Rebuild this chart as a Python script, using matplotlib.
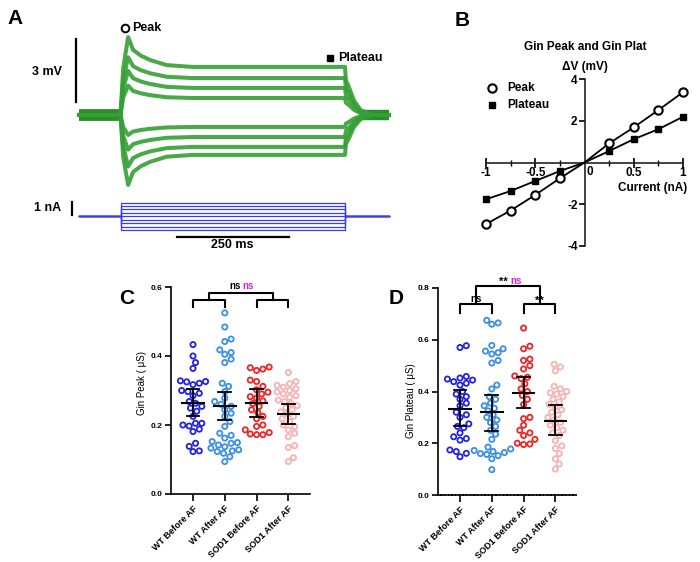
import numpy as np
import matplotlib
matplotlib.use('Agg')
import matplotlib.pyplot as plt

plt.rcParams['font.family'] = ['Liberation Sans', 'DejaVu Sans']
plt.rcParams['font.weight'] = 'bold'

W, H = 700, 562

# ---------------- data ----------------
# panel A: voltage responses (mV) to current steps
step_nA = [-1.0, -0.75, -0.5, -0.25, 0.0, 0.25, 0.5, 0.75, 1.0]
trace_plateau = [2.29, 1.76, 1.29, 0.81, -0.57, -1.05, -1.52, -1.90]
trace_peak = [3.71, 2.75, 2.10, 1.40, -0.95, -1.65, -2.45, -3.33]
t_rise = [100, 106]
rise_frac = [0.0, 0.6]
t_decay = [117, 128, 145, 166, 203, 260, 600]
decay_frac = [1.0, 0.57, 0.38, 0.23, 0.06, 0.0, 0.0]
t_off = [602, 608, 620, 635, 660, 698]
off_frac = [0.72, 0.6, 0.3, 0.1, 0.0, 0.0]
t_start, t_on, t_end, t_stop = 8, 100, 600, 698

# panel B: I-V relation
iv_current = [-1, -0.75, -0.5, -0.25, 0, 0.25, 0.5, 0.75, 1]
iv_peak = [-2.96, -2.31, -1.56, -0.76, 0, 0.92, 1.69, 2.52, 3.38]
iv_plateau = [-1.77, -1.37, -0.89, -0.41, 0, 0.55, 1.12, 1.60, 2.20]

# panels C and D
groups = ['WT Before AF', 'WT After AF', 'SOD1 Before AF', 'SOD1 After AF']
colors = ['#2222e0', '#3a8ee6', '#ee2424', '#f7b3b3']

peak_wt_before = [0.433, 0.40, 0.381, 0.364, 0.328, 0.326, 0.325, 0.321, 0.317, 0.30, 0.297,
                  0.292, 0.285, 0.268, 0.263, 0.254, 0.249, 0.24, 0.225, 0.205, 0.205, 0.20,
                  0.197, 0.188, 0.181, 0.147, 0.138, 0.123, 0.125]
peak_wt_after = [0.525, 0.484, 0.449, 0.442, 0.418, 0.41, 0.405, 0.391, 0.381, 0.321, 0.312,
                 0.297, 0.278, 0.268, 0.26, 0.254, 0.244, 0.234, 0.225, 0.21, 0.196, 0.176,
                 0.17, 0.162, 0.152, 0.149, 0.147, 0.142, 0.137, 0.133, 0.128, 0.125, 0.123,
                 0.118, 0.108, 0.094]
peak_sod_before = [0.368, 0.366, 0.362, 0.358, 0.33, 0.326, 0.312, 0.302, 0.295, 0.29, 0.282,
                   0.278, 0.27, 0.262, 0.254, 0.244, 0.236, 0.225, 0.218, 0.2, 0.196, 0.186,
                   0.178, 0.174, 0.172, 0.172]
peak_sod_after = [0.352, 0.326, 0.32, 0.315, 0.31, 0.305, 0.3, 0.296, 0.29, 0.285, 0.28, 0.272,
                  0.268, 0.262, 0.256, 0.25, 0.244, 0.238, 0.232, 0.225, 0.218, 0.21, 0.2,
                  0.195, 0.186, 0.176, 0.166, 0.14, 0.135, 0.105, 0.094]
peak_mean = [0.265, 0.256, 0.265, 0.231]
peak_lo = [0.227, 0.215, 0.223, 0.202]
peak_hi = [0.304, 0.297, 0.304, 0.260]

plat_wt_before = [0.577, 0.570, 0.458, 0.452, 0.448, 0.444, 0.438, 0.432, 0.425, 0.40, 0.39,
                  0.38, 0.37, 0.355, 0.345, 0.32, 0.31, 0.30, 0.275, 0.265, 0.26, 0.24, 0.225,
                  0.218, 0.212, 0.174, 0.168, 0.161, 0.148]
plat_wt_after = [0.675, 0.665, 0.66, 0.578, 0.565, 0.556, 0.55, 0.545, 0.52, 0.51, 0.425, 0.41,
                 0.38, 0.37, 0.355, 0.345, 0.335, 0.325, 0.31, 0.3, 0.29, 0.28, 0.265, 0.25,
                 0.235, 0.215, 0.185, 0.178, 0.172, 0.168, 0.164, 0.16, 0.157, 0.152, 0.14, 0.098]
plat_sod_before = [0.645, 0.575, 0.565, 0.525, 0.52, 0.50, 0.487, 0.46, 0.455, 0.45, 0.43,
                   0.41, 0.40, 0.385, 0.37, 0.35, 0.30, 0.295, 0.27, 0.25, 0.24, 0.23, 0.215,
                   0.20, 0.197, 0.195]
plat_sod_after = [0.505, 0.495, 0.48, 0.42, 0.41, 0.40, 0.395, 0.39, 0.38, 0.37, 0.36, 0.35,
                  0.34, 0.33, 0.32, 0.31, 0.30, 0.29, 0.28, 0.27, 0.26, 0.25, 0.24, 0.23, 0.21,
                  0.19, 0.18, 0.16, 0.14, 0.12, 0.10]
plat_mean = [0.332, 0.319, 0.396, 0.286]
plat_lo = [0.265, 0.248, 0.335, 0.230]
plat_hi = [0.404, 0.386, 0.455, 0.346]


def px_axes(fig, x0, y0, x1, y1):
    return fig.add_axes([x0 / W, 1 - y1 / H, (x1 - x0) / W, (y1 - y0) / H])


def fig_text(fig, x, y, s, **kw):
    fig.text(x / W, 1 - y / H, s, **kw)


def swarm(vals, px_x, px_y, diam):
    # simple beeswarm: nearest free horizontal slot for each point
    vals = np.asarray(vals)
    off = np.zeros(len(vals))
    placed = []
    step = diam * 0.2
    cands = [0.0]
    for k in range(1, 80):
        cands += [k * step, -k * step]
    for i in np.argsort(vals):
        y = vals[i] * px_y
        for c in cands:
            if all((c - px) ** 2 + (y - py) ** 2 >= diam ** 2 for px, py in placed):
                break
        placed.append((c, y))
        off[i] = c / px_x
    return off


fig = plt.figure(figsize=(7, 5.62), dpi=100)

# ---------------- panel A ----------------
green = '#35a035'
axv = px_axes(fig, 0, 0, 420, 190)
axv.set_xlim(-75.6 / 0.449, (420 - 75.6) / 0.449)
axv.set_ylim((115 - 190) / 21, 115 / 21)
axv.axis('off')
axv.plot([t_start, t_on], [0, 0], color='#2a8f2a', lw=8.5, solid_capstyle='butt')
axv.plot([635, t_stop], [0, 0], color='#2a8f2a', lw=7.5, solid_capstyle='butt')
for pl, pk in zip(trace_plateau, trace_peak):
    tt = [t_start] + t_rise + t_decay + t_off
    vv = ([0.0] + [f * pk for f in rise_frac]
          + [pl + f * (pk - pl) for f in decay_frac]
          + [f * pl for f in off_frac])
    axv.plot(tt, vv, color=green, lw=2.9, alpha=0.9, solid_joinstyle='round')
axv.plot([2, 2], [0.63, 3.63], color='black', lw=1.6)
axv.text(-30, 2.05, '3 mV', ha='right', va='center', fontsize=9)
axv.plot([110], [4.13], 'o', mfc='white', mec='black', ms=5.5, mew=1.4)
axv.text(127, 4.13, 'Peak', ha='left', va='center', fontsize=9)
axv.plot([566], [2.7], 's', color='black', ms=3.8)
axv.text(585, 2.7, 'Plateau', ha='left', va='center', fontsize=9)

axi = px_axes(fig, 0, 190, 420, 260)
axi.set_xlim(-75.6 / 0.449, (420 - 75.6) / 0.449)
axi.set_ylim((216.3 - 260) / 13.8, (216.3 - 190) / 13.8)
axi.axis('off')
for lvl in step_nA:
    axi.plot([t_start, t_on, t_on, t_end, t_end, t_stop], [0, 0, lvl, lvl, 0, 0],
             color='#3b3bf5', lw=0.9)
axi.plot([-7, -7], [0.08, 1.05], color='black', lw=1.6)
axi.text(-32, 0.6, '1 nA', ha='right', va='center', fontsize=9)
axi.plot([225, 475], [-1.52, -1.52], color='black', lw=1.6)
axi.text(350, -2.1, '250 ms', ha='center', va='center', fontsize=9)

# ---------------- panel B ----------------
axb = px_axes(fig, 584.5 - 1.1 * 98.5, 162.5 - 4.3 * 20.8, 584.5 + 1.1 * 98.5, 162.5 + 4.3 * 20.8)
axb.set_xlim(-1.1, 1.1)
axb.set_ylim(-4.3, 4.3)
axb.patch.set_alpha(0)
for s in ['top', 'right']:
    axb.spines[s].set_visible(False)
axb.spines['left'].set_position(('data', 0))
axb.spines['bottom'].set_position(('data', 0))
axb.spines['left'].set_bounds(-4, 4)
axb.spines['bottom'].set_bounds(-1, 1)
for s in ['left', 'bottom']:
    axb.spines[s].set_linewidth(1.2)
    axb.spines[s].set_color('#222222')
axb.set_yticks([-4, -2, 2, 4])
axb.set_yticklabels(['-4', '-2', '2', '4'])
axb.set_xticks([-1, -0.5, 0.5, 1])
axb.set_xticklabels(['-1', '-0.5', '0.5', '1'])
axb.set_xticks([-0.75, -0.25, 0.25, 0.75], minor=True)
axb.tick_params(axis='x', which='major', direction='inout', length=7, width=1.2, pad=0, labelsize=8.5)
axb.tick_params(axis='x', which='minor', direction='inout', length=4, width=1.0)
axb.tick_params(axis='y', which='major', direction='out', length=4, width=1.2, pad=1, labelsize=8.5)
axb.text(0.025, -0.46, '0', ha='left', va='center', fontsize=8.5)
axb.plot(iv_current, iv_peak, '-o', color='black', lw=1.3, mfc='white', mec='black',
         ms=6, mew=1.5, markevery=[0, 1, 2, 3, 5, 6, 7, 8], zorder=3)
axb.plot(iv_current, iv_plateau, '-s', color='black', lw=1.3, ms=3.8,
         markevery=[0, 1, 2, 3, 5, 6, 7, 8], zorder=3)
axb.text(1.04, -1.23, 'Current (nA)', ha='right', va='center', fontsize=8.5)
axb.text(0.005, 4.6, 'ΔV (mV)', ha='center', va='center', fontsize=8.5)
axb.text(0.005, 5.55, 'Gin Peak and Gin Plat', ha='center', va='center', fontsize=8.5)
axb.plot([-0.943], [3.6], 'o', mfc='white', mec='black', ms=6, mew=1.5, clip_on=False)
axb.text(-0.78, 3.6, 'Peak', ha='left', va='center', fontsize=8.5)
axb.plot([-0.94], [2.75], 's', color='black', ms=3.8, clip_on=False)
axb.text(-0.78, 2.75, 'Plateau', ha='left', va='center', fontsize=8.5)


# ---------------- panels C and D ----------------
def scatter_panel(box, ymax, yticks, data, means, los, his, ylabel, label_xy):
    x0, y0, x1, y1 = box
    ax = px_axes(fig, x0, y0, x1, y1)
    px_x = 31.8
    left = -(22) / px_x
    ax.set_xlim(left, left + (x1 - x0) / px_x)
    ax.set_ylim(0, ymax)
    px_y = (y1 - y0) / ymax
    for i, vals in enumerate(data):
        off = swarm(vals, px_x, px_y, 6.3)
        ax.scatter(i + off, vals, s=14, facecolors='none', edgecolors=colors[i],
                   linewidths=1.3, zorder=2, clip_on=False)
        ax.plot([i - 0.34, i + 0.34], [means[i], means[i]], color='black', lw=1.5, zorder=3)
        ax.plot([i, i], [los[i], his[i]], color='black', lw=1.3, zorder=3)
        for v in (los[i], his[i]):
            ax.plot([i - 0.2, i + 0.2], [v, v], color='black', lw=1.3, zorder=3)
    for s in ['top', 'right']:
        ax.spines[s].set_visible(False)
    for s in ['left', 'bottom']:
        ax.spines[s].set_linewidth(1.2)
    ax.set_yticks(yticks)
    ax.set_yticklabels([f'{v:.1f}' for v in yticks])
    ax.set_xticks(range(4))
    ax.set_xticklabels(groups, rotation=45, ha='right', rotation_mode='anchor')
    ax.tick_params(axis='y', length=4, width=1.2, pad=2, labelsize=6)
    ax.tick_params(axis='x', length=5, width=1.2, pad=2, labelsize=6.5)
    ax.set_ylabel(ylabel, fontsize=7)
    ax.yaxis.set_label_coords(*label_xy)
    return ax


axc = scatter_panel((171, 287, 310, 494), 0.6, [0.0, 0.2, 0.4, 0.6],
                    [peak_wt_before, peak_wt_after, peak_sod_before, peak_sod_after],
                    peak_mean, peak_lo, peak_hi, 'Gin Peak ( μS)', (-0.17, 0.536))
kw = dict(color='black', lw=1.5, clip_on=False)
axc.plot([0, 0, 1, 1], [0.541, 0.562, 0.562, 0.541], **kw)
axc.plot([2, 2, 3, 3], [0.541, 0.562, 0.562, 0.541], **kw)
axc.plot([0.5, 0.5, 2.5, 2.5], [0.562, 0.583, 0.583, 0.562], **kw)
axc.text(1.5, 0.604, 'ns', ha='right', va='center', fontsize=7)
axc.text(1.56, 0.604, 'ns', ha='left', va='center', fontsize=7, color='#e020e0')

axd = scatter_panel((438, 288, 577, 495), 0.8, [0.0, 0.2, 0.4, 0.6, 0.8],
                    [plat_wt_before, plat_wt_after, plat_sod_before, plat_sod_after],
                    plat_mean, plat_lo, plat_hi, 'Gin Plateau ( μS)', (-0.155, 0.454))
axd.spines['bottom'].set_linestyle((0, (1.5, 0.7)))
axd.plot([0, 0, 1, 1], [0.702, 0.737, 0.737, 0.702], **kw)
axd.plot([2, 2, 3, 3], [0.702, 0.737, 0.737, 0.702], **kw)
axd.plot([0.5, 0.5, 2.5, 2.5], [0.737, 0.809, 0.809, 0.737], **kw)
axd.text(0.5, 0.757, 'ns', ha='center', va='center', fontsize=7)
axd.text(2.5, 0.752, '**', ha='center', va='center', fontsize=8)
axd.text(1.5, 0.823, '**', ha='right', va='center', fontsize=8)
axd.text(1.57, 0.828, 'ns', ha='left', va='center', fontsize=7, color='#e020e0')

# panel letters
fig_text(fig, 7, 19, 'A', fontsize=15, va='center', ha='left')
fig_text(fig, 455, 20, 'B', fontsize=15, va='center', ha='left')
fig_text(fig, 119, 298, 'C', fontsize=15, va='center', ha='left')
fig_text(fig, 389, 298, 'D', fontsize=15, va='center', ha='left')

fig.savefig('out.png', dpi=100)
